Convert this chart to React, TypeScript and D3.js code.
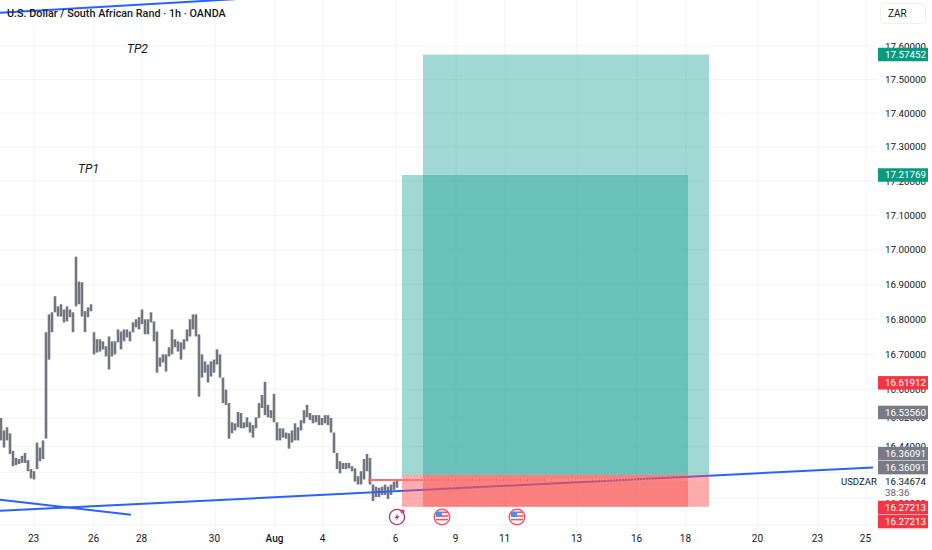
import { useEffect, useRef } from 'react';

import { line, scaleLinear, scaleLog, select } from 'd3';

// hourly bar extremes (one entry per 3px of chart)
const barHigh = [
  16.52, 16.485, 16.494, 16.477, 16.428, 16.408, 16.405, 16.414, 16.422, 16.402, 16.377, 16.371, 16.451, 16.437, 16.457,
  16.763, 16.814, 16.82, 16.866, 16.837, 16.843, 16.828, 16.837, 16.828, 16.82, 16.98, 16.908, 16.906, 16.823, 16.834,
  16.843, 16.763, 16.743, 16.743, 16.737, 16.723, 16.751, 16.737, 16.737, 16.771, 16.765, 16.771, 16.771, 16.765, 16.791,
  16.8, 16.806, 16.828, 16.8, 16.8, 16.82, 16.794, 16.765, 16.691, 16.7, 16.7, 16.72, 16.771, 16.743, 16.737,
  16.734, 16.743, 16.771, 16.8, 16.814, 16.814, 16.757, 16.7, 16.68, 16.671, 16.68, 16.685, 16.714, 16.7, 16.634,
  16.6, 16.562, 16.508, 16.505, 16.537, 16.534, 16.508, 16.522, 16.508, 16.5, 16.522, 16.562, 16.585, 16.622, 16.557,
  16.542, 16.588, 16.508, 16.491, 16.491, 16.479, 16.477, 16.485, 16.505, 16.494, 16.514, 16.542, 16.557, 16.534, 16.528,
  16.528, 16.528, 16.52, 16.528, 16.528, 16.52, 16.479, 16.422, 16.399, 16.394, 16.394, 16.394, 16.385, 16.379, 16.357,
  16.371, 16.405, 16.419, 16.408, 16.334, 16.328, 16.325, 16.328, 16.334, 16.328, 16.334, 16.342, 16.345,
];
const barLow = [
  16.457, 16.437, 16.457, 16.419, 16.385, 16.388, 16.391, 16.394, 16.394, 16.371, 16.351, 16.348, 16.377, 16.399, 16.405,
  16.462, 16.685, 16.763, 16.82, 16.808, 16.808, 16.791, 16.794, 16.806, 16.763, 16.837, 16.843, 16.808, 16.763, 16.806,
  16.823, 16.7, 16.705, 16.708, 16.714, 16.694, 16.657, 16.694, 16.7, 16.734, 16.714, 16.737, 16.748, 16.737, 16.763,
  16.777, 16.771, 16.786, 16.757, 16.757, 16.791, 16.737, 16.648, 16.665, 16.677, 16.651, 16.694, 16.7, 16.72, 16.708,
  16.685, 16.714, 16.737, 16.751, 16.771, 16.751, 16.58, 16.634, 16.648, 16.62, 16.637, 16.648, 16.671, 16.634, 16.562,
  16.557, 16.462, 16.477, 16.485, 16.494, 16.491, 16.491, 16.494, 16.479, 16.465, 16.491, 16.52, 16.548, 16.528, 16.522,
  16.52, 16.508, 16.457, 16.457, 16.465, 16.462, 16.434, 16.451, 16.457, 16.457, 16.485, 16.505, 16.522, 16.514, 16.505,
  16.508, 16.5, 16.5, 16.505, 16.5, 16.479, 16.422, 16.377, 16.365, 16.377, 16.377, 16.379, 16.371, 16.342, 16.334,
  16.334, 16.348, 16.371, 16.334, 16.288, 16.299, 16.299, 16.305, 16.305, 16.294, 16.305, 16.319, 16.325,
];

const priceTicks = [17.6, 17.5, 17.4, 17.3, 17.2, 17.1, 17.0, 16.9, 16.8, 16.7, 16.6, 16.52, 16.44, 16.28];
const gridPrices = [17.6, 17.5, 17.4, 17.3, 17.2, 17.1, 17.0, 16.9, 16.8, 16.7, 16.6, 16.52, 16.44, 16.368, 16.296, 16.222];

const timeLabels = ['23', '26', '28', '30', 'Aug', '4', '6', '9', '11', '13', '16', '18', '20', '23', '25'];
const timeIndex = [11, 31, 47, 71.33, 91.33, 107.33, 131.67, 151.67, 168, 192, 212, 228.33, 252.33, 272.33, 288.33];

const entryPrice = 16.36091;
const stopPrice = 16.27213;
const targetPrices = [17.21769, 17.57452];
const boxStart = [133.67, 140.67];
const boxEnd = [229, 236];

const trendLines: [number, number][][] = [
  [[-0.33, 16.261], [290.67, 16.381]],
  [[-0.33, 16.292], [43.33, 16.25]],
  [[-0.33, 17.7], [82, 17.743]],
];
const lastPrice = 16.34674;

// shift = offset of the stacked tags from their price line
const priceTags = [
  { text: '17.57452', price: 17.57452, color: '#089981', shift: -6.75 },
  { text: '17.21769', price: 17.21769, color: '#089981', shift: -6.75 },
  { text: '16.61912', price: 16.61912, color: '#f23645', shift: -6.75 },
  { text: '16.53560', price: 16.5356, color: '#787b86', shift: -6.75 },
  { text: '16.36091', price: 16.36091, color: '#787b86', shift: -28 },
  { text: '16.36091', price: 16.36091, color: '#787b86', shift: -14 },
  { text: '16.27213', price: 16.27213, color: '#f23645', shift: -6 },
  { text: '16.27213', price: 16.27213, color: '#f23645', shift: 8 },
];

const notes = [
  { text: 'TP2', index: 42, price: 17.58 },
  { text: 'TP1', index: 25.7, price: 17.225 },
];

const FONT = 'Roboto, sans-serif';

export default function App() {
  const svgRef = useRef<SVGSVGElement>(null);

  useEffect(() => {
    const node = svgRef.current;
    if (!node) return;
    const svg = select(node);
    svg.selectAll('*').remove();

    const x = scaleLinear().domain([0, 310]).range([1, 931]);
    const y = scaleLog().domain([16.44, 17.6]).range([446.5, 46]);

    // grid
    const grid = svg.append('g').attr('stroke', '#f2f3f5').attr('stroke-width', 1);
    grid
      .selectAll('.h')
      .data(gridPrices)
      .join('line')
      .attr('x1', 0)
      .attr('x2', 877)
      .attr('y1', (d) => y(d))
      .attr('y2', (d) => y(d));
    grid
      .selectAll('.v')
      .data(timeIndex)
      .join('line')
      .attr('x1', (d) => x(d))
      .attr('x2', (d) => x(d))
      .attr('y1', 0)
      .attr('y2', 527);

    // bars
    svg
      .append('g')
      .selectAll('rect')
      .data(barHigh)
      .join('rect')
      .attr('x', (_, i) => x(i) - 1.3)
      .attr('width', 2.6)
      .attr('y', (d) => y(d))
      .attr('height', (d, i) => y(barLow[i]) - y(d))
      .attr('fill', '#74767f');

    // trend lines go under the position boxes
    const path = line<[number, number]>()
      .x((d) => x(d[0]))
      .y((d) => y(d[1]));
    svg
      .append('g')
      .selectAll('path')
      .data(trendLines)
      .join('path')
      .attr('d', (d) => path(d))
      .attr('fill', 'none')
      .attr('stroke', '#2962ff')
      .attr('stroke-width', 2);

    // long position boxes
    const boxes = svg.append('g');
    targetPrices.forEach((target, i) => {
      const left = x(boxStart[i]);
      const w = x(boxEnd[i]) - left;
      boxes
        .append('rect')
        .attr('x', left)
        .attr('width', w)
        .attr('y', y(target))
        .attr('height', y(entryPrice) - y(target))
        .attr('fill', '#26a69a')
        .attr('fill-opacity', 0.44);
      boxes
        .append('rect')
        .attr('x', left)
        .attr('width', w)
        .attr('y', y(entryPrice))
        .attr('height', y(stopPrice) - y(entryPrice))
        .attr('fill', '#f94f4f')
        .attr('fill-opacity', 0.47);
    });

    // last price marks inside the box
    svg
      .append('line')
      .attr('x1', x(122.33))
      .attr('x2', x(182))
      .attr('y1', y(lastPrice))
      .attr('y2', y(lastPrice))
      .attr('stroke', '#f7706f')
      .attr('stroke-width', 2);
    svg
      .append('line')
      .attr('x1', x(133.67))
      .attr('x2', x(236))
      .attr('y1', y(lastPrice))
      .attr('y2', y(lastPrice))
      .attr('stroke', '#ffffff')
      .attr('stroke-opacity', 0.45)
      .attr('stroke-dasharray', '1 2');

    // text notes
    svg
      .append('g')
      .selectAll('text')
      .data(notes)
      .join('text')
      .attr('x', (d) => x(d.index))
      .attr('y', (d) => y(d.price))
      .attr('font-family', FONT)
      .attr('font-style', 'italic')
      .attr('font-size', 12)
      .attr('fill', '#131722')
      .text((d) => d.text);

    // title
    svg
      .append('text')
      .attr('x', 7)
      .attr('y', 17)
      .attr('font-family', FONT)
      .attr('font-weight', 500)
      .attr('font-size', 10.8)
      .attr('fill', '#131722')
      .text('U.S. Dollar / South African Rand · 1h · OANDA');

    // time axis
    svg
      .append('g')
      .selectAll('text')
      .data(timeLabels)
      .join('text')
      .attr('x', (_, i) => x(timeIndex[i]) - 0.5)
      .attr('y', 542)
      .attr('text-anchor', 'middle')
      .attr('font-family', FONT)
      .attr('font-size', 10)
      .attr('font-weight', (d) => (d === 'Aug' ? 500 : 400))
      .attr('fill', '#131722')
      .text((d) => d);

    // price axis
    svg
      .append('g')
      .selectAll('text')
      .data(priceTicks)
      .join('text')
      .attr('x', 885)
      .attr('y', (d) => y(d) + 3.5)
      .attr('font-family', FONT)
      .attr('font-size', 9.8)
      .attr('fill', '#131722')
      .text((d) => d.toFixed(5));

    // ZAR button
    svg
      .append('rect')
      .attr('x', 880.5)
      .attr('y', 3.5)
      .attr('width', 45)
      .attr('height', 20)
      .attr('rx', 3)
      .attr('fill', '#fff')
      .attr('stroke', '#eeeff1');
    svg
      .append('text')
      .attr('x', 888)
      .attr('y', 17)
      .attr('font-family', FONT)
      .attr('font-size', 10)
      .attr('fill', '#131722')
      .text('ZAR');

    // price tags
    const tags = svg.append('g').selectAll('g').data(priceTags).join('g');
    tags
      .append('rect')
      .attr('x', 878)
      .attr('width', 50)
      .attr('height', 13.5)
      .attr('y', (d) => y(d.price) + d.shift)
      .attr('fill', (d) => d.color);
    tags
      .append('text')
      .attr('x', 885)
      .attr('y', (d) => y(d.price) + d.shift + 10.2)
      .attr('font-family', FONT)
      .attr('font-size', 9.8)
      .attr('fill', '#fff')
      .text((d) => d.text);

    // current price and countdown
    svg
      .append('text')
      .attr('x', 885)
      .attr('y', 484.5)
      .attr('font-family', FONT)
      .attr('font-size', 9.8)
      .attr('fill', '#131722')
      .text(lastPrice.toFixed(5));
    svg
      .append('text')
      .attr('x', 885)
      .attr('y', 495.5)
      .attr('font-family', FONT)
      .attr('font-size', 9.8)
      .attr('fill', '#5d606b')
      .text('38:36');
    svg
      .append('text')
      .attr('x', 841)
      .attr('y', 484.5)
      .attr('font-family', FONT)
      .attr('font-size', 9.5)
      .attr('fill', '#131722')
      .text('USDZAR');

    // event markers
    const cy = 517;
    const flash = svg.append('g').attr('transform', `translate(${x(132)},${cy})`);
    flash.append('circle').attr('r', 7.6).attr('fill', '#fff').attr('stroke', '#9b3a78').attr('stroke-width', 1.3);
    flash.append('path').attr('d', 'M1.5,-4 L-2.5,1 L0,1 L-1.5,4.5 L2.5,-0.8 L0,-0.8 Z').attr('fill', '#9b3a78');
    flash.append('circle').attr('cx', 5.5).attr('cy', -5.5).attr('r', 2).attr('fill', '#f23645');

    [147, 172].forEach((idx) => {
      const g = svg.append('g').attr('transform', `translate(${x(idx)},${cy})`);
      g.append('circle').attr('r', 7.8).attr('fill', '#fff').attr('stroke', '#f7525f').attr('stroke-width', 1.4);
      g.append('rect').attr('x', -6).attr('y', -5.5).attr('width', 6).attr('height', 5.5).attr('fill', '#4a8fe8');
      g.append('rect').attr('x', 0).attr('y', -5.5).attr('width', 6).attr('height', 1.6).attr('fill', '#f7525f');
      g.append('rect').attr('x', 0).attr('y', -1.8).attr('width', 6.5).attr('height', 1.6).attr('fill', '#f7525f');
      g.append('rect').attr('x', -6).attr('y', 1.8).attr('width', 12).attr('height', 1.6).attr('fill', '#f7525f');
    });
  }, []);

  return (
    <svg
      ref={svgRef}
      width={932}
      height={550}
      style={{ position: 'absolute', left: 0, top: 0, background: '#fff', display: 'block' }}
    />
  );
}
